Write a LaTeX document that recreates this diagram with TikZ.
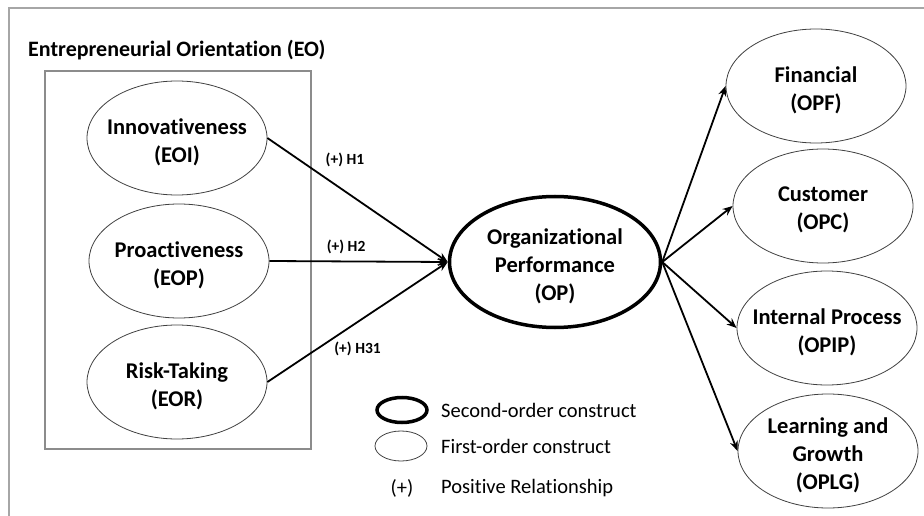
\documentclass[tikz,border=0pt]{standalone}
\usepackage{fontspec}
\setmainfont{Carlito}[Ligatures=NoCommon]
\usetikzlibrary{arrows.meta,positioning,shapes.geometric}
\definecolor{framec}{HTML}{A6A6A6}
\definecolor{boxc}{HTML}{8C8C8C}
\definecolor{rimc}{HTML}{404040}
\tikzset{
  firstorder/.style={ellipse, draw=rimc, line width=0.8pt, minimum width=180pt,
    minimum height=114pt, inner sep=0pt},
  secondorder/.style={ellipse, draw=black, line width=3.5pt, minimum width=211pt,
    minimum height=131pt, inner sep=0pt},
  construct/.style={font=\fontsize{22.5}{28}\selectfont\bfseries, align=center,
    yshift=-4pt},
  named/.style={label={[construct]center:{#1}}},
  hyp/.style={font=\fontsize{15.5}{18}\selectfont\bfseries},
  key/.style={font=\fontsize{20.5}{24}\selectfont, inner sep=0pt},
  link/.style={->, line width=1.8pt},
  >={Stealth[length=10pt, width=8pt]}}

\begin{document}
\begin{tikzpicture}[x=1pt, y=-1pt]
  \useasboundingbox (0,0) rectangle (924,516);
  % ---- outer frame, open at the right and at the bottom
  \draw[framec, line width=2pt] (9,516) -- (9,8) -- (924,8);
  % ---- the EO block: three first-order dimensions in a box
  \node[anchor=west, inner sep=0pt, font=\fontsize{22}{26}\selectfont\bfseries]
    (EOtitle) at (28,50) {Entrepreneurial Orientation (EO)};
  \draw[boxc, line width=1.2pt] (45,71) rectangle (311,449);
  \node[firstorder, named={Innovativeness\\(EOI)}] (EOI) at (177,138) {};
  \node[firstorder, named={Proactiveness\\(EOP)}] (EOP) at (179,261) {};
  \node[firstorder, named={Risk-Taking\\(EOR)}] (EOR) at (177,382) {};
  % ---- second-order outcome and its four dimensions
  \node[secondorder, named={Organizational\\Performance\\(OP)}] (OP) at (555,262) {};
  \node[firstorder, named={Financial\\(OPF)}] (OPF) at (816,86) {};
  \node[firstorder, named={Customer\\(OPC)}] (OPC) at (823,206) {};
  \node[firstorder, named={Internal Process\\(OPIP)}] (OPIP) at (827,328) {};
  \node[firstorder, named={Learning and\\Growth\\(OPLG)}] (OPLG) at (828,451) {};
  % hypotheses H1, H2, H31
  \draw[link] (EOI.east) -- node[hyp, pos=0.43, yshift=31pt] {(+) H1} (OP.west);
  \draw[link] (EOP.east) -- node[hyp, pos=0.43, yshift=15pt] {(+) H2} (OP.west);
  \draw[link] (EOR.east) -- node[hyp, pos=0.5, yshift=-27pt] {(+) H31} (OP.west);
  \foreach \dim in {OPF, OPC, OPIP, OPLG}
    \draw[link] (OP.east) -- (\dim.west);
  % ---- legend
  \node[secondorder, minimum width=50pt, minimum height=25pt] (keyso) at (402,410) {};
  \node[firstorder, minimum width=52pt, minimum height=30pt] (keyfo) at (401,446) {};
  \node[key] (keyplus) at (402,488) {(+)};
  \node[key, anchor=west] (keysotext) at (441,410) {Second-order construct};
  \node[key, anchor=west] (keyfotext) at (441,446) {First-order construct};
  \node[key, anchor=west] (keyplustext) at (441,488) {Positive Relationship};
\end{tikzpicture}
\end{document}
